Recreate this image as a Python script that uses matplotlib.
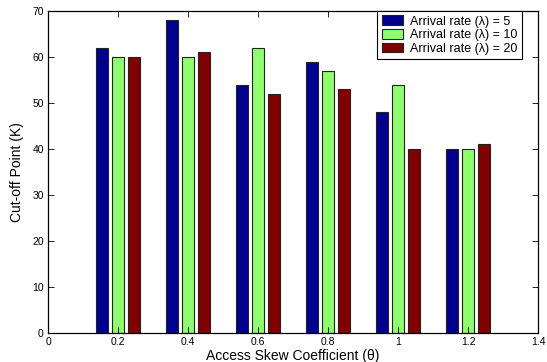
import numpy as np
import matplotlib
matplotlib.use("Agg")
import matplotlib.pyplot as plt

plt.rcParams['font.family'] = ['Liberation Sans', 'DejaVu Sans']

theta = [0.2, 0.4, 0.6, 0.8, 1.0, 1.2]
k_rate5 = [62, 68, 54, 59, 48, 40]
k_rate10 = [60, 60, 62, 57, 54, 40]
k_rate20 = [60, 61, 52, 53, 40, 41]
labels = ["Arrival rate (\u03bb) = 5", "Arrival rate (\u03bb) = 10", "Arrival rate (\u03bb) = 20"]
colors = ["#00008f", "#8fff70", "#800000"]

fig = plt.figure(figsize=(5.47, 3.62), dpi=100)
ax = fig.add_axes([0.0878, 0.0801, 0.8958, 0.8895])
x = np.array(theta)
w = 0.034
for off, vals, c, lab in zip([-0.045, 0.0, 0.045], [k_rate5, k_rate10, k_rate20], colors, labels):
    ax.bar(x + off, vals, width=w, color=c, edgecolor="#222222", linewidth=0.8, label=lab)

ax.set_xlim(0, 1.4)
ax.set_ylim(0, 70)
ax.set_xticks([0, 0.2, 0.4, 0.6, 0.8, 1, 1.2, 1.4])
ax.set_xticklabels(["0", "0.2", "0.4", "0.6", "0.8", "1", "1.2", "1.4"])
ax.set_yticks(range(0, 71, 10))
ax.tick_params(direction="in", top=True, right=True, labelsize=7.5, length=4, width=0.6, pad=3)
for s in ax.spines.values():
    s.set_linewidth(0.9)
ax.set_xlabel("Access Skew Coefficient (\u03b8)", fontsize=10, labelpad=1)
ax.set_ylabel("Cut-off Point (K)", fontsize=10, labelpad=6)
leg = ax.legend(loc="upper right", bbox_to_anchor=((522 - 48) / 490, 1.0), fontsize=9,
                fancybox=False, framealpha=1, edgecolor="black", borderaxespad=0.0,
                handlelength=1.7, handleheight=0.85, handletextpad=0.6, borderpad=0.35,
                labelspacing=0.1)
leg.get_frame().set_linewidth(0.8)
fig.savefig("out.png", dpi=100)
